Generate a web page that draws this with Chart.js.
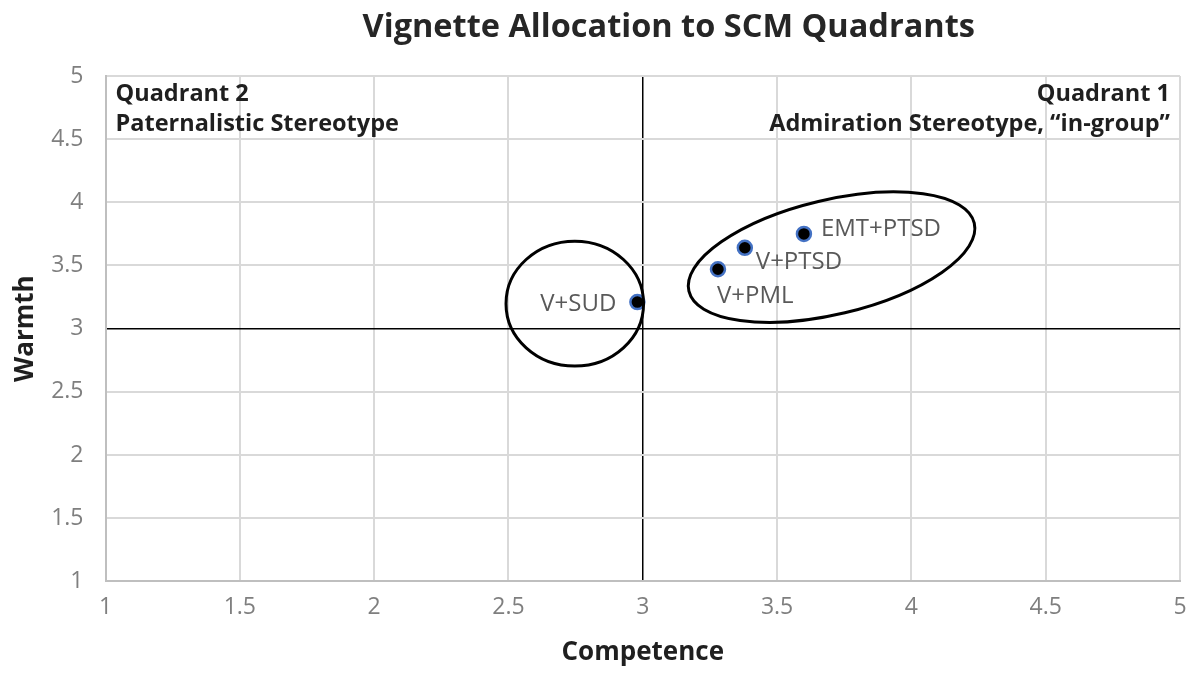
<!DOCTYPE html>
<html>
<head>
<meta charset="utf-8">
<script src="https://cdn.jsdelivr.net/npm/chart.js@4/dist/chart.umd.min.js"></script>
<style>
  html, body { margin: 0; padding: 0; background: #fff; }
  #wrap { width: 1200px; height: 680px; }
</style>
</head>
<body>
<div id="wrap"><canvas id="scm-chart" width="1200" height="680"></canvas></div>
<script>
// data
var vignettes  = ['V+SUD', 'V+PML', 'V+PTSD', 'EMT+PTSD'];
var competence = [2.98, 3.28, 3.38, 3.60];
var warmth     = [3.21, 3.47, 3.64, 3.75];
var axisTicks  = [1, 1.5, 2, 2.5, 3, 3.5, 4, 4.5, 5];

// where each point label sits relative to its point (pixels)
var labelPlace = [
    {dx: -21, dy: 2,  align: 'right'},
    {dx: -1,  dy: 27, align: 'left'},
    {dx: 11,  dy: 14, align: 'left'},
    {dx: 17,  dy: -5, align: 'left'}
];

// grouping ellipses, in data units (rotation in degrees)
var groups = [
    {cx: 2.747, cy: 3.198, rx: 0.256, ry: 0.494, rot: 0},
    {cx: 3.703, cy: 3.566, rx: 0.546, ry: 0.453, rot: -13.4}
];

var FONT = "'Open Sans', 'Noto Sans', sans-serif";

var extrasPlugin = {
    id: 'scmExtras',
    afterDatasetsDraw: function(chart){
        var ctx = chart.ctx;
        var xs = chart.scales.x, ys = chart.scales.y;
        var area = chart.chartArea;
        var pxX = xs.getPixelForValue(2) - xs.getPixelForValue(1);
        var pxY = ys.getPixelForValue(1) - ys.getPixelForValue(2);

        // ellipses
        ctx.save();
        ctx.strokeStyle = '#000';
        ctx.lineWidth = 3;
        groups.forEach(function(g){
            ctx.beginPath();
            ctx.ellipse(xs.getPixelForValue(g.cx), ys.getPixelForValue(g.cy),
                        g.rx * pxX, g.ry * pxY, g.rot * Math.PI / 180, 0, 2 * Math.PI);
            ctx.stroke();
        });
        ctx.restore();

        // point labels
        var meta = chart.getDatasetMeta(0);
        ctx.save();
        ctx.font = '24px ' + FONT;
        ctx.fillStyle = '#595959';
        ctx.textBaseline = 'middle';
        meta.data.forEach(function(pt, i){
            var p = labelPlace[i];
            ctx.textAlign = p.align;
            ctx.fillText(vignettes[i], pt.x + p.dx, pt.y + p.dy);
        });
        ctx.restore();

        // quadrant captions
        ctx.save();
        ctx.font = 'bold 23.5px ' + FONT;
        ctx.fillStyle = '#1f1f1f';
        ctx.textBaseline = 'middle';
        ctx.textAlign = 'left';
        ctx.fillText('Quadrant 2', area.left + 10, area.top + 18);
        ctx.fillText('Paternalistic Stereotype', area.left + 10, area.top + 48);
        ctx.textAlign = 'right';
        ctx.fillText('Quadrant 1', area.right - 10, area.top + 18);
        ctx.fillText('Admiration Stereotype, \u201cin-group\u201d', area.right - 10, area.top + 48);
        ctx.restore();

        // chart title
        ctx.save();
        ctx.font = 'bold 32.5px ' + FONT;
        ctx.fillStyle = '#262626';
        ctx.textAlign = 'center';
        ctx.textBaseline = 'middle';
        ctx.fillText('Vignette Allocation to SCM Quadrants', (area.left + area.right) / 2 + 26, 28);
        ctx.restore();
    }
};

var gridColor = function(c){ return c.tick && c.tick.value === 3 ? '#000' : '#d9d9d9'; };
var gridWidth = function(c){ return c.tick && c.tick.value === 3 ? 1.5 : 2; };
var tickLabel = function(v){ return String(v); };

var ctx = document.getElementById('scm-chart').getContext('2d');
var scmChart = new Chart(ctx, {
    type: 'scatter',
    data: {
        datasets: [{
            label: 'Vignettes',
            data: competence.map(function(c, i){ return {x: c, y: warmth[i]}; }),
            backgroundColor: '#000',
            borderColor: '#4472c4',
            borderWidth: 2.5,
            pointRadius: 7,
            pointHoverRadius: 7
        }]
    },
    options: {
        responsive: false,
        animation: false,
        layout: { padding: { top: 76, right: 20, left: 0, bottom: 0 } },
        plugins: {
            legend: { display: false },
            tooltip: { enabled: false }
        },
        scales: {
            x: {
                type: 'linear', min: 1, max: 5,
                afterBuildTicks: function(s){ s.ticks = axisTicks.map(function(v){ return {value: v}; }); },
                afterFit: function(s){ s.height = 98.7; },
                grid: { color: gridColor, lineWidth: gridWidth, drawTicks: false },
                border: { color: '#bfbfbf', width: 2 },
                ticks: { padding: 12, color: '#7f7f7f', font: { family: FONT, size: 23 }, callback: tickLabel },
                title: { display: true, text: 'Competence', color: '#1f1f1f',
                         font: { family: FONT, size: 26, weight: 'bold' }, padding: { top: 0, bottom: 12 } }
            },
            y: {
                type: 'linear', min: 1, max: 5,
                afterBuildTicks: function(s){ s.ticks = axisTicks.map(function(v){ return {value: v}; }); },
                afterFit: function(s){ s.width = 105.5; },
                grid: { color: gridColor, lineWidth: gridWidth, drawTicks: false },
                border: { color: '#bfbfbf', width: 2 },
                ticks: { padding: 22, color: '#7f7f7f', font: { family: FONT, size: 23 }, callback: tickLabel },
                title: { display: true, text: 'Warmth', color: '#1f1f1f',
                         font: { family: FONT, size: 26, weight: 'bold' }, padding: { top: 10, bottom: 0 } }
            }
        }
    },
    plugins: [extrasPlugin]
});
</script>
</body>
</html>
